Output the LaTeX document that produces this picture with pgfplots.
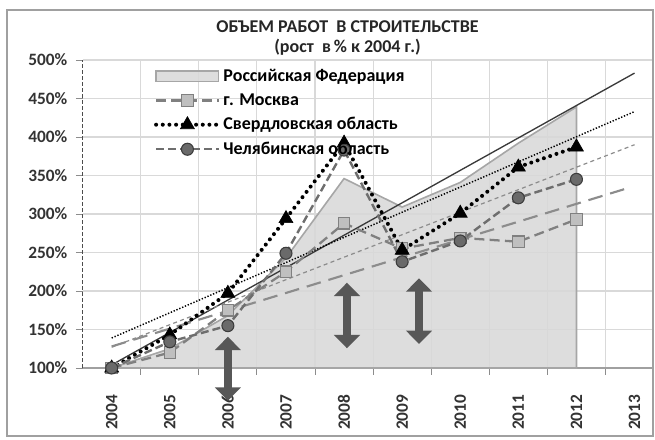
\documentclass[border=0pt]{standalone}
\usepackage{fontspec}
\setmainfont{Carlito}
\usepackage{pgfplots}
\pgfplotsset{compat=1.18}
\usetikzlibrary{arrows.meta}
\definecolor{rfFill}{HTML}{D8D8D8}
\definecolor{rfEdge}{HTML}{A6A6A6}
\definecolor{mosLine}{HTML}{808080}
\definecolor{mosMark}{HTML}{BFBFBF}
\definecolor{chLine}{HTML}{6E6E6E}
\definecolor{chMark}{HTML}{6A6A6A}
\definecolor{chEdge}{HTML}{3C3C3C}
\definecolor{gridGray}{HTML}{D9D9D9}
\definecolor{frameGray}{HTML}{A0A0A0}
\definecolor{arrowGray}{HTML}{575757}
\definecolor{trendDark}{HTML}{3A3A3A}
\definecolor{trendGray}{HTML}{8C8C8C}
\definecolor{tickText}{HTML}{333333}
\begin{document}
\begin{tikzpicture}
\path[use as bounding box] (0,0) rectangle (491.25pt,329.25pt);
\draw[line width=1.5pt, color=frameGray] ({7*0.75pt},{(439-10)*0.75pt}) rectangle ({653*0.75pt},{(439-436)*0.75pt});
\node[font=\bfseries\fontsize{13.5}{15}\selectfont, text=black!85] at ({347.5*0.75pt},{(439-27)*0.75pt}) {ОБЪЕМ РАБОТ\ \ В СТРОИТЕЛЬСТВЕ};
\node[font=\bfseries\fontsize{13.5}{15}\selectfont, text=black!85] at ({347.5*0.75pt},{(439-47)*0.75pt}) {(рост\ \ в\,\% к 2004 г.)};
\begin{axis}[
  at={({82.65*0.75pt},{71*0.75pt})}, anchor=south west,
  scale only axis, width=427pt, height=231pt,
  xmin=2003.5, xmax=2013.3, ymin=100, ymax=500,
  clip=false,
  axis x line*=bottom, axis y line*=left,
  x axis line style={-, draw=frameGray, line width=0.8pt},
  y axis line style={-, draw=black!70, dash pattern=on 3pt off 1.5pt, line width=0.8pt},
  tick align=outside, major tick length=5pt,
  tick style={draw=black!45, line width=0.7pt},
  ytick={100,150,...,500},
  yticklabels={100\%,150\%,200\%,250\%,300\%,350\%,400\%,450\%,500\%},
  yticklabel style={font=\bfseries\fontsize{13}{15}\selectfont, text=tickText, xshift=-3pt},
  ymajorgrids, xmajorgrids,
  major grid style={draw=gridGray, line width=0.8pt},
  xtick={2004.5,2005.5,...,2012.5}, xticklabels={},
  extra x ticks={2004,2005,2006,2007,2008,2009,2010,2011,2012,2013},
  extra x tick labels={2004,2005,2006,2007,2008,2009,2010,2011,2012,2013},
  extra x tick style={major tick length=0pt, grid=none,
     xticklabel style={font=\bfseries\fontsize{13}{15}\selectfont, text=tickText, anchor=east, yshift=-16.5pt, rotate=90}},
  legend style={at={(0.118,0.988)}, anchor=north west, draw=none, fill=none,
     font=\bfseries\fontsize{13.5}{15}\selectfont, row sep=3.6pt,
     nodes={inner sep=2pt}},
  legend cell align=left,
  legend image code/.code={\draw[mark repeat=2,mark phase=2,#1] plot coordinates {(0pt,0pt) (23.5pt,0pt) (47pt,0pt)};},
]
% Russian Federation (area)
\addplot[fill=rfFill, fill opacity=0.88, draw=rfEdge, line width=1.2pt,
  legend image code/.code={\draw[fill=rfFill, draw=rfEdge, line width=1pt] (0pt,-4pt) rectangle (47pt,4pt);}]
  coordinates {(2004,100) (2005,125) (2006,168) (2007,243) (2008,346) (2009,309) (2010,341) (2011,392) (2012,439)} \closedcycle;
\addlegendentry{Российская Федерация}
% trend lines
\addplot[forget plot, trendDark, line width=1pt] coordinates {(2004,104) (2013,483)};
\addplot[forget plot, black, line width=1.1pt, dash pattern=on 1pt off 1.3pt] coordinates {(2004,139) (2013,433)};
\addplot[forget plot, trendGray, line width=0.9pt, dash pattern=on 3pt off 2.5pt] coordinates {(2004,127) (2013,390)};
\addplot[forget plot, trendGray, line width=1.6pt, dash pattern=on 11pt off 6pt] coordinates {(2004,128) (2012.9,334)};
% Moscow
\addplot[mosLine, line width=1.7pt, dash pattern=on 7.5pt off 4pt,
  mark=square*, mark size=4.3pt, mark options={solid, fill=mosMark, draw=mosLine, line width=0.8pt}]
  coordinates {(2004,100) (2005,120) (2006,175) (2007,225) (2008,288) (2009,255) (2010,269) (2011,264) (2012,293)};
\addlegendentry{г. Москва}
% Sverdlovsk
\addplot[black, line width=3pt, line cap=round, dash pattern=on 0pt off 5pt,
  mark=triangle*, mark size=6pt, mark options={solid, fill=black, draw=black, line width=0.5pt}]
  coordinates {(2004,100) (2005,143) (2006,197) (2007,294) (2008,392) (2009,253) (2010,301) (2011,361) (2012,387)};
\addlegendentry{Свердловская область}
% Chelyabinsk
\addplot[chLine, line width=1.8pt, dash pattern=on 6pt off 3pt,
  mark=*, mark size=4.5pt, mark options={solid, fill=chMark, draw=chEdge, line width=0.8pt}]
  coordinates {(2004,100) (2005,134) (2006,155) (2007,249) (2008,383) (2009,238) (2010,265) (2011,321) (2012,345)};
\addlegendentry{Челябинская область}
\coordinate (a1t) at (axis cs:2006,140.6);
\coordinate (a1b) at (axis cs:2006,57.5);
\coordinate (a2t) at (axis cs:2008.05,210.8);
\coordinate (a2b) at (axis cs:2008.05,125.6);
\coordinate (a3t) at (axis cs:2009.29,216.5);
\coordinate (a3b) at (axis cs:2009.29,131.2);
\end{axis}
\foreach \t/\b in {a1t/a1b, a2t/a2b, a3t/a3b}{
  \draw[line width=6pt, color=arrowGray, {Triangle[width=19pt,length=10pt]}-{Triangle[width=19pt,length=10pt]}] (\t) -- (\b);
}
\end{tikzpicture}
\end{document}
